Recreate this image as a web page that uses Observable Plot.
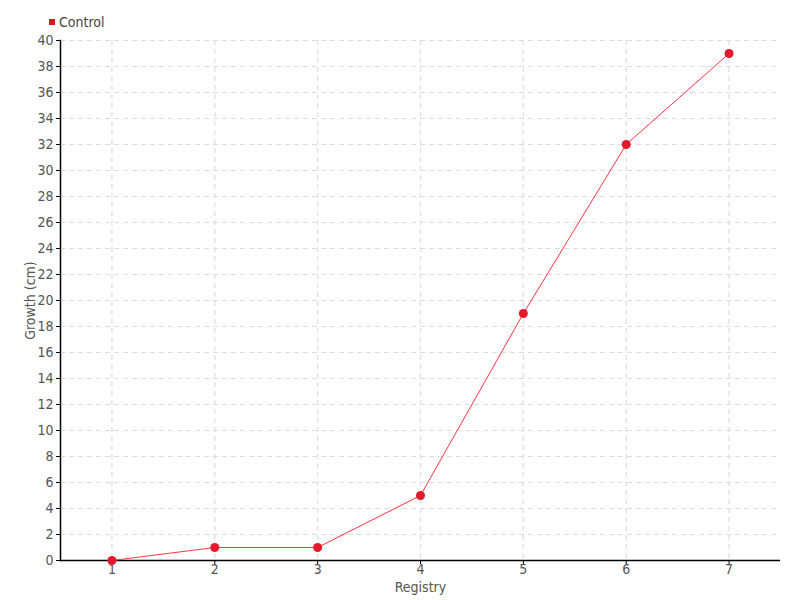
<!DOCTYPE html>
<html><head><meta charset="utf-8">
<script src="https://cdn.jsdelivr.net/npm/d3@7"></script>
<script src="https://cdn.jsdelivr.net/npm/@observablehq/plot@0.6"></script>
<style>
body{margin:0;background:#fff;font-family:"DejaVu Sans",sans-serif;font-stretch:condensed;}
#wrap{position:relative;width:800px;height:600px;}
#legend{position:absolute;left:49px;top:14px;font-size:14px;color:#444;display:flex;align-items:center;font-stretch:condensed;}
#legend span.sw{display:inline-block;width:6px;height:6px;background:#e8121e;margin-right:4px;}
svg text{font-stretch:condensed;}
</style></head>
<body><div id="wrap"><div id="legend"><span class="sw"></span>Control</div></div>
<script>
const registry = [1, 2, 3, 4, 5, 6, 7];
const growth = [0, 1, 1, 5, 19, 32, 39];
const yTicks = d3.range(0, 41, 2);
const seriesName = "Control";

const data = registry.map((r, i) => ({registry: r, growth: growth[i], series: seriesName}));

const chart = Plot.plot({
  width: 800, height: 600,
  marginTop: 40, marginBottom: 40, marginLeft: 60, marginRight: 20,
  style: {fontFamily: '"DejaVu Sans",sans-serif', fontStretch: "condensed", fontSize: "14px", color: "#555", background: "transparent"},
  x: {type: "point", domain: registry, padding: 0.5, round: false},
  y: {domain: [0, 40], ticks: yTicks},
  marks: [
    Plot.gridY(yTicks, {stroke: "#ddd", strokeOpacity: 1, strokeDasharray: "5,4"}),
    Plot.gridX(registry, {stroke: "#e4e4e4", strokeOpacity: 1, strokeDasharray: "5,4", strokeWidth: 1.5}),
    Plot.axisY(yTicks, {tickSize: 4, tickPadding: 3, stroke: "#000", fill: "#555", label: "Growth (cm)", labelAnchor: "center", labelArrow: "none", labelOffset: 35, fontSize: 14}),
    Plot.axisX(registry, {tickSize: 4, tickPadding: 0, stroke: "#000", fill: "#555", label: "Registry", labelAnchor: "center", labelArrow: "none", labelOffset: 31, fontSize: 14}),
    Plot.ruleY([0], {stroke: "#000", strokeWidth: 1.5}),
    Plot.frame({anchor: "left", stroke: "#000", strokeWidth: 1.5}),
    Plot.line(data, {x: "registry", y: "growth", stroke: "#ff3344", strokeWidth: 1}),
    Plot.dot(data, {x: "registry", y: "growth", r: 4.5, fill: "#e31a2b", stroke: "none"})
  ]
});
document.getElementById("wrap").appendChild(chart);
chart.style.position = "absolute";
chart.style.left = "0";
chart.style.top = "0";
</script>
</body></html>
